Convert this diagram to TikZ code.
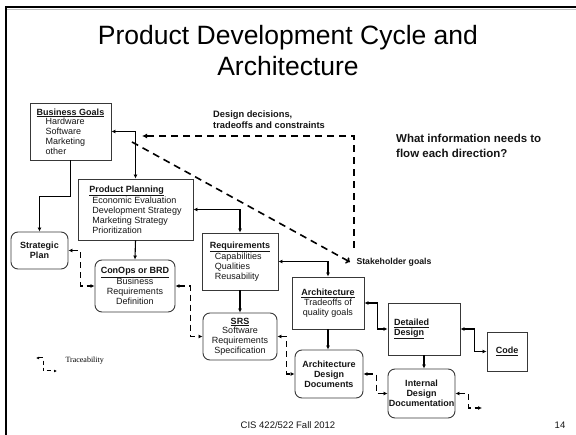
\documentclass[tikz,border=0pt]{standalone}
\usepackage{fontspec}
\setmainfont{Liberation Sans}
\newfontfamily\legendfont{Liberation Serif}
\usetikzlibrary{arrows.meta,calc}
\definecolor{BoxClr}{rgb}{0.22,0.22,0.22}
\definecolor{InkClr}{rgb}{0.08,0.08,0.08}

\begin{document}
\begin{tikzpicture}[x=1pt,y=-1pt,
  box/.style={draw=BoxClr,line width=0.9pt,inner sep=0pt,text=InkClr,
    font=\fontsize{9}{9.8}\selectfont},
  docbox/.style={box,rounded corners=7pt,align=center,font=\bfseries\fontsize{9}{9.8}\selectfont},
  flow/.style={line width=1.1pt,-{Latex[length=4pt,width=4pt]}},
  twoway/.style={line width=1.1pt,{Latex[length=4pt,width=4pt]}-{Latex[length=4pt,width=4pt]}},
  trace/.style={line width=1.3pt,dash pattern=on 6pt off 4pt,
    {Latex[length=4pt,width=4pt]}-{Latex[length=4pt,width=4pt]}},
  hint/.style={line width=1.6pt,dash pattern=on 7pt off 5pt}]
\useasboundingbox (0,0) rectangle (576,435);

% slide frame
\draw[line width=2.2pt] (6,435) -- (6,7) -- (576,7);
\draw[black!25,line width=0.6pt] (7,9.6) -- (576,9.6);

\node[align=center,font=\fontsize{26.5}{31}\selectfont,anchor=north] (title) at (288,22)
  {Product Development Cycle and\\Architecture};

% boxes
\node[box,align=left,minimum width=81pt,minimum height=57pt] (bg) at (70.5,131.5)
  {\underline{\textbf{Business Goals}}\\\hspace*{9pt}Hardware\\\hspace*{9pt}Software\\\hspace*{9pt}Marketing\\\hspace*{9pt}other};
\node[box,align=left,minimum width=115pt,minimum height=61pt] (pp) at (135.5,209.5)
  {\underline{\textbf{Product Planning}}\\\hspace*{3pt}Economic Evaluation\\\hspace*{3pt}Development Strategy\\\hspace*{3pt}Marketing Strategy\\\hspace*{3pt}Prioritization};
\node[docbox,minimum width=57pt,minimum height=37pt] (sp) at (39.5,250.5) {Strategic\\Plan};
\node[box,rounded corners=7pt,align=center,minimum width=80pt,minimum height=52pt] (conops) at (135,286)
  {\underline{\textbf{ConOps or BRD}}\\Business\\Requirements\\Definition};
\node[box,align=left,minimum width=76pt,minimum height=57pt] (req) at (240,261.5)
  {\underline{\textbf{Requirements}}\\\hspace*{5pt}Capabilities\\\hspace*{5pt}Qualities\\\hspace*{5pt}Reusability};
\node[box,rounded corners=7pt,align=center,minimum width=74pt,minimum height=47pt] (srs) at (240,336.5)
  {\underline{\textbf{SRS}}\\Software\\Requirements\\Specification};
\node[box,align=center,minimum width=72pt,minimum height=52pt] (arch) at (328,303)
  {\underline{\textbf{Architecture}}\\Tradeoffs of\\quality goals};
\node[docbox,minimum width=68pt,minimum height=48pt] (add) at (329,374)
  {Architecture\\Design\\Documents};
\node[box,align=left,text width=60pt,minimum width=72pt,minimum height=52pt,
  font=\bfseries\fontsize{9}{9.8}\selectfont] (dd) at (424,329)
  {\underline{Detailed}\\\underline{Design}};
\node[box,align=center,minimum width=40pt,minimum height=39pt,
  font=\bfseries\fontsize{9}{9.8}\selectfont] (code) at (507,351.5) {\underline{Code}};
\node[docbox,minimum width=67pt,minimum height=49pt] (idd) at (421.5,393.5)
  {Internal\\Design\\Documentation};

% labels
\node[anchor=west,font=\bfseries\fontsize{8.7}{9}\selectfont,text=InkClr] (stk) at (353,262) {Stakeholder goals};
\node[anchor=north west,align=left,inner sep=0pt,font=\bfseries\fontsize{9.3}{10.5}\selectfont,text=InkClr] (dec) at (213,111)
  {Design decisions,\\tradeoffs and constraints};
\node[anchor=north west,align=left,inner sep=0pt,font=\bfseries\fontsize{11.5}{15}\selectfont,text=InkClr] (ask) at (396,134)
  {What information needs to\\flow each direction?};

% solid flow
\draw[twoway] (bg.east) -| (pp.north);
\draw[flow] (bg.south) -- ++(0,36) -| (sp.north);
\draw[flow] (pp.south) -- (conops.north);
\draw[twoway] (pp.east) -| (req.north);
\draw[flow] (req.south) -- (srs.north);
\draw[twoway] (req.east) -| (arch.north);
\draw[flow] (arch.south) -- (arch.south |- add.north);
\draw[twoway] (arch.east) -- ++(13,0) |- (dd.west);
\draw[twoway] (dd.east) -- ++(14,0) |- (code.west);
\draw[flow] (dd.south) -- (dd.south |- idd.north);

% traceability
\draw[trace] (sp.east) -- ++(12,0) |- (conops.west);
\draw[trace] (conops.east) -- ++(15,0) |- (srs.west);
\draw[trace] (srs.east) -- ++(9,0) |- (add.west);
\draw[trace] (add.east) -- ++(13,0) |- (idd.west);
\coordinate (tail) at (482,408);
\draw[trace] (idd.east) -- ++(13,0) |- (tail);

% goals and decisions
\coordinate (dtop) at (354,248);
\coordinate (dleft) at (142,136);
\coordinate (dstart) at (132,142);
\draw[hint,-{Latex[length=5pt,width=5pt]}] (dtop) |- (dleft);
\draw[hint,-{To[length=4pt,width=7pt]}] (dstart) -- ($(stk.west)+(-3,0)$);

% legend
\coordinate (lgtop) at (43,358);
\coordinate (lgend) at (57,371);
\draw[trace,line width=1pt,dash pattern=on 4pt off 3pt,
  {Latex[length=3pt,width=3pt]}-{Latex[length=3pt,width=3pt]}] ($(lgtop)+(-7,0)$) -- (lgtop) |- (lgend);
\node[anchor=west,font=\legendfont\fontsize{8}{9}\selectfont] (trc) at (62,361) {Traceability};

% footer
\node[font=\fontsize{9.5}{11}\selectfont,text=InkClr] (foot) at (288,425) {CIS 422/522 Fall 2012};
\node[font=\fontsize{9.5}{11}\selectfont,text=InkClr] (page) at (560,425) {14};
\end{tikzpicture}
\end{document}
